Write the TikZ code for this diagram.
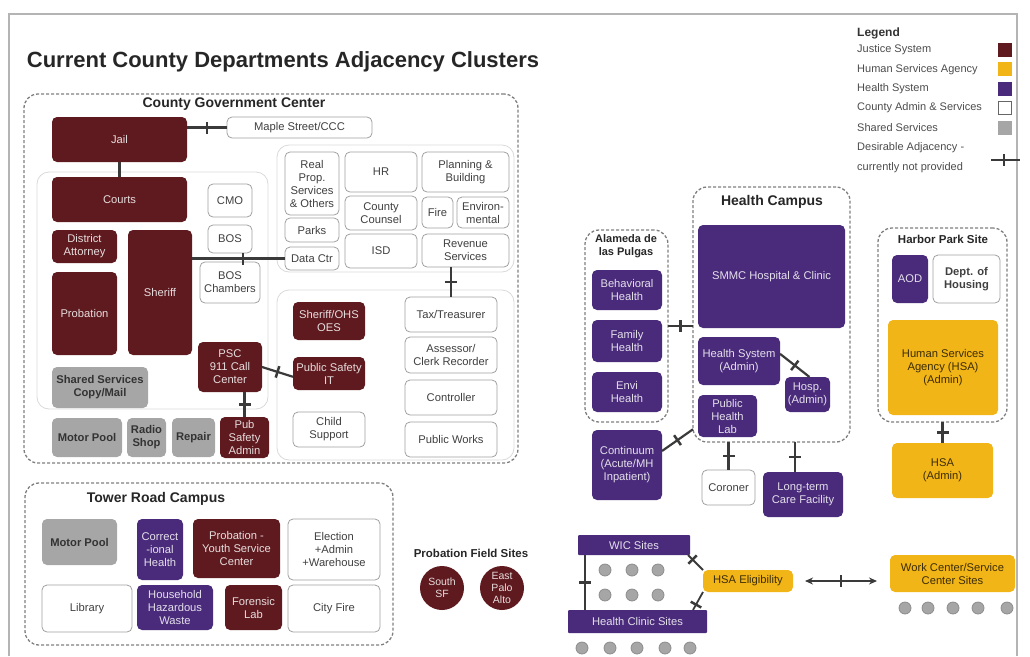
\documentclass[tikz,border=0pt]{standalone}
\usepackage{fontspec}
\setmainfont{Liberation Sans}
\usetikzlibrary{calc,arrows.meta}
\definecolor{jus}{HTML}{5E1A1F}
\definecolor{hlt}{HTML}{4A2B7B}
\definecolor{hsa}{HTML}{F2B517}
\definecolor{shr}{HTML}{A6A6A6}
\definecolor{wbd}{HTML}{A0A0A0}
\definecolor{cnc}{HTML}{3A3A3A}
\definecolor{zon}{HTML}{7F7F7F}
\definecolor{frm}{HTML}{B4B4B4}
\newcommand{\mkbox}[7]{\node[#1, minimum width={(#5)-(#3)}, minimum height={(#6)-(#4)}] (#2) at ({((#3)+(#5))/2},{((#4)+(#6))/2}) {#7};}
\tikzset{
  bstyle/.style={rounded corners=5pt, inner sep=0pt, outer sep=0pt, align=center, font=\fontsize{11.2}{13}\selectfont},
  jbox/.style={bstyle, fill=jus, text=white!85!jus},
  hbox/.style={bstyle, fill=hlt, text=white!85!hlt},
  ybox/.style={bstyle, fill=hsa, text=black!75!hsa},
  gbox/.style={bstyle, fill=shr, text=black!80, font=\fontsize{11.2}{13}\selectfont\bfseries},
  wbox/.style={bstyle, fill=white, draw=wbd, line width=0.8pt, text=black!75},
  zonebox/.style={draw=zon, dash pattern=on 3pt off 2pt, line width=1.3pt, rounded corners=14pt, inner sep=0pt, outer sep=0pt},
  grp/.style={draw=black!15, line width=0.8pt, rounded corners=12pt, inner sep=0pt, outer sep=0pt},
  ztitle/.style={font=\fontsize{14}{16}\selectfont\bfseries, text=black!85, inner sep=0pt, align=center},
  conn/.style={draw=cnc, line width=2.2pt},
  tbar/.style={rectangle, fill=cnc, minimum width=2.5pt, minimum height=12pt, inner sep=0pt, sloped},
  legtxt/.style={anchor=west, inner sep=0pt, font=\fontsize{11}{13}\selectfont, text=black!70},
  swatch/.style={minimum size=14pt, inner sep=0pt, outer sep=0pt},
  dot/.style={circle, fill=shr, draw=black!45, line width=0.8pt, minimum size=12pt, inner sep=0pt},
  fsite/.style={circle, fill=jus, text=white!85!jus, minimum size=44pt, inner sep=0pt, align=center, font=\fontsize{10.5}{12}\selectfont}
}
\begin{document}
\begin{tikzpicture}[x=1pt,y=-1pt]
\useasboundingbox (0,0) rectangle (1030,656);
% frame
\draw[frm, line width=2pt] (9,656) -- (9,14) -- (1017,14) -- (1017,656);
% title
\node[inner sep=0pt, font=\fontsize{22}{26}\selectfont\bfseries, text=black!85] (title) at (283,62) {Current County Departments Adjacency Clusters};
% zones and groups
\mkbox{zonebox}{cgc}{24}{94}{518}{463}{}
\mkbox{grp}{g1}{37}{172}{268}{409}{}
\mkbox{grp}{g2}{277}{145}{514}{272}{}
\mkbox{grp}{g3}{277}{290}{514}{460}{}
\mkbox{zonebox}{trc}{25}{483}{393}{645}{}
\mkbox{zonebox}{alm}{585}{230}{668}{422}{}
\mkbox{zonebox}{hcz}{693}{187}{850}{442}{}
\mkbox{zonebox}{hps}{878}{228}{1007}{422}{}
% zone titles
\node[ztitle] (tcgc) at (234,104) {County Government Center};
\node[ztitle] (ttrc) at (156,499) {Tower Road Campus};
\node[ztitle] (thcz) at (772,202) {Health Campus};
\node[ztitle, font=\fontsize{11}{12.5}\selectfont\bfseries] (talm) at (626,246) {Alameda de\\las Pulgas};
\node[ztitle, font=\fontsize{11.5}{13}\selectfont\bfseries] (thps) at (943,239) {Harbor Park Site};
\node[ztitle, font=\fontsize{11.5}{13}\selectfont\bfseries] (tpfs) at (471,553) {Probation Field Sites};
% County Government Center
\mkbox{jbox}{jail}{52}{117}{187}{162}{Jail}
\mkbox{wbox}{maple}{227}{117}{372}{138}{Maple Street/CCC}
\mkbox{jbox}{courts}{52}{177}{187}{222}{Courts}
\mkbox{wbox}{cmo}{208}{184}{252}{217}{CMO}
\mkbox{wbox}{bos}{208}{225}{252}{253}{BOS}
\mkbox{wbox}{bosch}{200}{262}{260}{303}{BOS\\Chambers}
\mkbox{jbox}{da}{52}{230}{117}{263}{District\\Attorney}
\mkbox{jbox}{prob}{52}{272}{117}{355}{Probation}
\mkbox{jbox}{sheriff}{128}{230}{192}{355}{Sheriff}
\mkbox{gbox}{shared}{52}{367}{148}{408}{Shared Services\\Copy/Mail}
\mkbox{gbox}{motor}{52}{418}{122}{457}{Motor Pool}
\mkbox{gbox}{radio}{127}{418}{166}{457}{Radio\\Shop}
\mkbox{gbox}{repair}{172}{418}{215}{457}{Repair}
\mkbox{jbox}{psa}{220}{417}{269}{458}{Pub\\Safety\\Admin}
\mkbox{jbox}{psc}{198}{342}{262}{392}{PSC\\911 Call\\Center}
\mkbox{wbox}{realprop}{285}{152}{339}{215}{Real\\Prop.\\Services\\\& Others}
\mkbox{wbox}{parks}{285}{218}{339}{242}{Parks}
\mkbox{wbox}{datactr}{285}{247}{339}{270}{Data Ctr}
\mkbox{wbox}{hr}{345}{152}{417}{192}{HR}
\mkbox{wbox}{counsel}{345}{196}{417}{230}{County\\Counsel}
\mkbox{wbox}{isd}{345}{234}{417}{268}{ISD}
\mkbox{wbox}{plan}{422}{152}{509}{192}{Planning \&\\Building}
\mkbox{wbox}{fire}{422}{197}{453}{228}{Fire}
\mkbox{wbox}{env}{457}{197}{509}{228}{Environ-\\mental}
\mkbox{wbox}{rev}{422}{234}{509}{267}{Revenue\\Services}
\mkbox{jbox}{oes}{293}{302}{365}{340}{Sheriff/OHS\\OES}
\mkbox{jbox}{psit}{293}{357}{365}{390}{Public Safety\\IT}
\mkbox{wbox}{child}{293}{412}{365}{447}{Child\\Support}
\mkbox{wbox}{tax}{405}{297}{497}{332}{Tax/Treasurer}
\mkbox{wbox}{assessor}{405}{337}{497}{373}{Assessor/\\Clerk Recorder}
\mkbox{wbox}{ctrl}{405}{380}{497}{415}{Controller}
\mkbox{wbox}{pw}{405}{422}{497}{457}{Public Works}
% Tower Road Campus
\mkbox{gbox}{tmotor}{42}{519}{117}{565}{Motor Pool}
\mkbox{hbox}{corr}{137}{519}{183}{580}{Correct\\-ional\\Health}
\mkbox{jbox}{pysc}{193}{519}{280}{578}{Probation -\\Youth Service\\Center}
\mkbox{wbox}{elect}{288}{519}{380}{580}{Election\\+Admin\\+Warehouse}
\mkbox{wbox}{lib}{42}{585}{132}{632}{Library}
\mkbox{hbox}{hhw}{137}{585}{213}{630}{Household\\Hazardous\\Waste}
\mkbox{jbox}{flab}{225}{585}{282}{630}{Forensic\\Lab}
\mkbox{wbox}{cfire}{288}{585}{380}{632}{City Fire}
% Probation field sites
\node[fsite] (ssf) at (442,588) {South\\SF};
\node[fsite] (epa) at (502,588) {East\\Palo\\Alto};
% Alameda / Health campus
\mkbox{hbox}{beh}{592}{270}{662}{310}{Behavioral\\Health}
\mkbox{hbox}{fam}{592}{320}{662}{362}{Family\\Health}
\mkbox{hbox}{envh}{592}{372}{662}{412}{Envi\\Health}
\mkbox{hbox}{smmc}{698}{225}{845}{328}{SMMC Hospital \& Clinic}
\mkbox{hbox}{hsys}{698}{337}{780}{385}{Health System\\(Admin)}
\mkbox{hbox}{hosp}{785}{377}{830}{412}{Hosp.\\(Admin)}
\mkbox{hbox}{phl}{698}{395}{757}{437}{Public\\Health\\Lab}
\mkbox{hbox}{cont}{592}{430}{662}{500}{Continuum\\(Acute/MH\\Inpatient)}
\mkbox{wbox}{coroner}{702}{470}{755}{505}{Coroner}
\mkbox{hbox}{ltc}{763}{472}{843}{517}{Long-term\\Care Facility}
% Harbor Park
\mkbox{hbox}{aod}{892}{255}{928}{303}{AOD}
\mkbox{wbox}{housing}{933}{255}{1000}{303}{\bfseries Dept. of\\\bfseries Housing}
\mkbox{ybox}{hsaadm}{888}{320}{998}{415}{Human Services\\Agency (HSA)\\(Admin)}
\mkbox{ybox}{hsa2}{892}{443}{993}{498}{HSA\\(Admin)}
% bottom right
\mkbox{hbox, rounded corners=1pt}{wic}{578}{535}{690}{555}{WIC Sites}
\mkbox{hbox, rounded corners=1pt}{hcs}{568}{610}{707}{633}{Health Clinic Sites}
\mkbox{ybox}{elig}{703}{570}{793}{592}{HSA Eligibility}
\mkbox{ybox}{work}{890}{555}{1015}{592}{Work Center/Service\\Center Sites}
% dots
\foreach \x [count=\i] in {605,632,658}{
  \node[dot] (da\i) at (\x,570) {};
  \node[dot] (db\i) at (\x,595) {};
}
\foreach \x [count=\i] in {582,610,637,665,690}{
  \node[dot] (dc\i) at (\x,648) {};
}
\foreach \x [count=\i] in {905,928,953,978,1007}{
  \node[dot] (dd\i) at (\x,608) {};
}
% connectors
\draw[conn] (jail.south) -- (courts.north);
\draw[conn] (jail.east |- maple.west) -- node[tbar]{} (maple.west);
\draw[conn] (sheriff.east |- datactr.west) -- node[tbar, pos=0.55]{} (datactr.west);
\draw[conn] (psa.north) -- node[tbar]{} (psa.north |- psc.south);
\draw[conn] ($(psc.north east)!0.5!(psc.south east)$) -- node[tbar]{} ($(psit.north west)!0.6!(psit.south west)$);
\draw[conn] (tax.north) -- node[tbar]{} (tax.north |- rev.south);
\draw[conn] (alm.east) -- node[tbar]{} (alm.east -| hcz.west);
\draw[conn] ($(cont.north east)!0.3!(cont.south east)$) -- node[tbar]{} ($(hcz.west)!0.9!(hcz.south west)$);
\draw[conn] ($(hsys.north east)!0.35!(hsys.south east)$) -- node[tbar]{} ($(hosp.north)+(2,0)$);
\draw[conn] (coroner.north) -- node[tbar]{} (coroner.north |- hcz.south);
\draw[conn] ([xshift=-8pt]ltc.north) -- node[tbar]{} ([xshift=-8pt]ltc.north |- hcz.south);
\draw[conn] (hsa2.north) -- node[tbar]{} (hsa2.north |- hps.south);
\draw[conn] ([xshift=7pt]wic.south west) -- node[tbar]{} ([xshift=7pt]wic.south west |- hcs.north);
\draw[conn, line width=1.8pt] (elig.north west) -- node[tbar, pos=0.7]{} ([xshift=-2pt]wic.south east);
\draw[conn, line width=1.8pt] (elig.south west) -- node[tbar, pos=0.7]{} ([xshift=-14pt]hcs.north east);
\coordinate (arrL) at ([xshift=12pt]elig.east);
\coordinate (arrR) at ([xshift=-13pt]work.west |- elig.east);
\draw[conn, line width=1.8pt, {Stealth[length=8pt,width=7pt]}-{Stealth[length=8pt,width=7pt]}] (arrL) -- node[tbar]{} (arrR);
% legend
\node[anchor=west, inner sep=0pt, font=\fontsize{12}{14}\selectfont\bfseries, text=black!80] (lgt) at (857,33) {Legend};
\node[legtxt] (l1) at (857,50) {Justice System};
\node[legtxt] (l2) at (857,70) {Human Services Agency};
\node[legtxt] (l3) at (857,89) {Health System};
\node[legtxt] (l4) at (857,108) {County Admin \& Services};
\node[legtxt] (l5) at (857,128) {Shared Services};
\node[legtxt] (l6) at (857,148) {Desirable Adjacency -};
\node[legtxt] (l7) at (857,168) {currently not provided};
\node[swatch, fill=jus] (s1) at (1004.5,50) {};
\node[swatch, fill=hsa] (s2) at (1004.5,69) {};
\node[swatch, fill=hlt] (s3) at (1004.5,89) {};
\node[swatch, fill=white, draw=black!60, line width=0.8pt, minimum size=13pt] (s4) at (1004.5,108) {};
\node[swatch, fill=shr] (s5) at (1004.5,128) {};
\coordinate (lg1) at (991,160);
\coordinate (lg2) at (1020,160);
\draw[conn] (lg1) -- node[tbar, pos=0.45]{} (lg2);
\end{tikzpicture}
\end{document}
